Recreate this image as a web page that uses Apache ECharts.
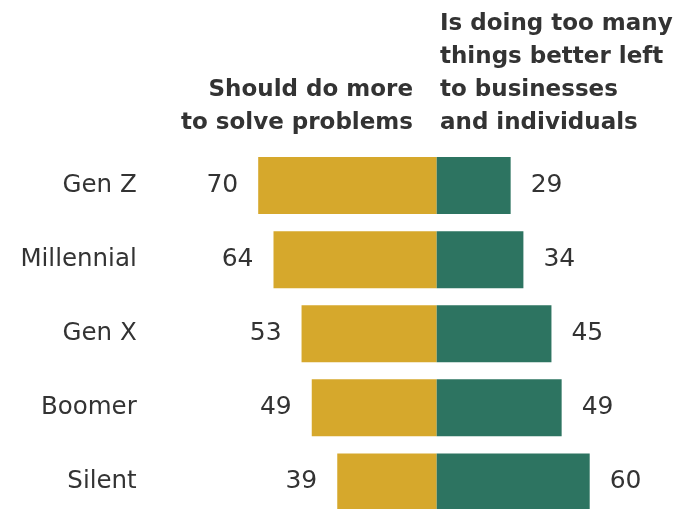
<!DOCTYPE html>
<html>
<head>
<meta charset="utf-8">
<script src="https://cdn.jsdelivr.net/npm/echarts@6/dist/echarts.min.js"></script>
<style>
  html, body { margin: 0; padding: 0; background: #fff; }
  #chart { width: 674px; height: 509px; }
</style>
</head>
<body>
<div id="chart"></div>
<script>
// Generations, top to bottom
const generations = ['Gen Z', 'Millennial', 'Gen X', 'Boomer', 'Silent'];
// Share saying government should do more to solve problems
const doMore = [70, 64, 53, 49, 39];
// Share saying government is doing too many things better left to businesses and individuals
const doingTooMuch = [29, 34, 45, 49, 60];
// Column headings
const leftHeading = ['Should do more', 'to solve problems'];
const rightHeading = ['Is doing too many', 'things better left', 'to businesses', 'and individuals'];

const GOLD = '#D6A82C';
const TEAL = '#2D7461';
const TEXT = '#333333';
const FONT = 'DejaVu Sans';

const chart = echarts.init(document.getElementById('chart'), null, { renderer: 'canvas' });

chart.setOption({
  backgroundColor: '#ffffff',
  animation: false,
  // The last row runs slightly past the bottom edge, so the grid is not clamped to the canvas
  grid: {
    left: 232.7, right: 33.3, top: 148.5, height: 370.5,
    containLabel: false, outerBoundsMode: 'none'
  },
  xAxis: {
    type: 'value', min: -80, max: 80, show: false
  },
  yAxis: {
    type: 'category',
    data: generations,
    inverse: true,
    axisLine: { show: false },
    axisTick: { show: false },
    splitLine: { show: false },
    axisLabel: { color: TEXT, fontFamily: FONT, fontSize: 24.5, margin: 96 }
  },
  graphic: [
    {
      type: 'text', x: 413, y: 74,
      style: {
        text: leftHeading.join('\n'), fill: TEXT, fontFamily: FONT, fontWeight: 'bold',
        fontSize: 23, lineHeight: 33, align: 'right', verticalAlign: 'top'
      }
    },
    {
      type: 'text', x: 440, y: 8,
      style: {
        text: rightHeading.join('\n'), fill: TEXT, fontFamily: FONT, fontWeight: 'bold',
        fontSize: 23, lineHeight: 33, align: 'left', verticalAlign: 'top'
      }
    }
  ],
  series: [
    {
      name: 'Should do more to solve problems',
      type: 'bar', stack: 'views', barWidth: 57,
      data: doMore.map(v => -v),
      itemStyle: { color: GOLD },
      label: {
        show: true, position: 'left', distance: 20,
        color: TEXT, fontFamily: FONT, fontSize: 25,
        formatter: p => Math.abs(p.value)
      }
    },
    {
      name: 'Is doing too many things better left to businesses and individuals',
      type: 'bar', stack: 'views', barWidth: 57,
      data: doingTooMuch,
      itemStyle: { color: TEAL },
      label: {
        show: true, position: 'right', distance: 20,
        color: TEXT, fontFamily: FONT, fontSize: 25
      }
    }
  ]
});
</script>
</body>
</html>
